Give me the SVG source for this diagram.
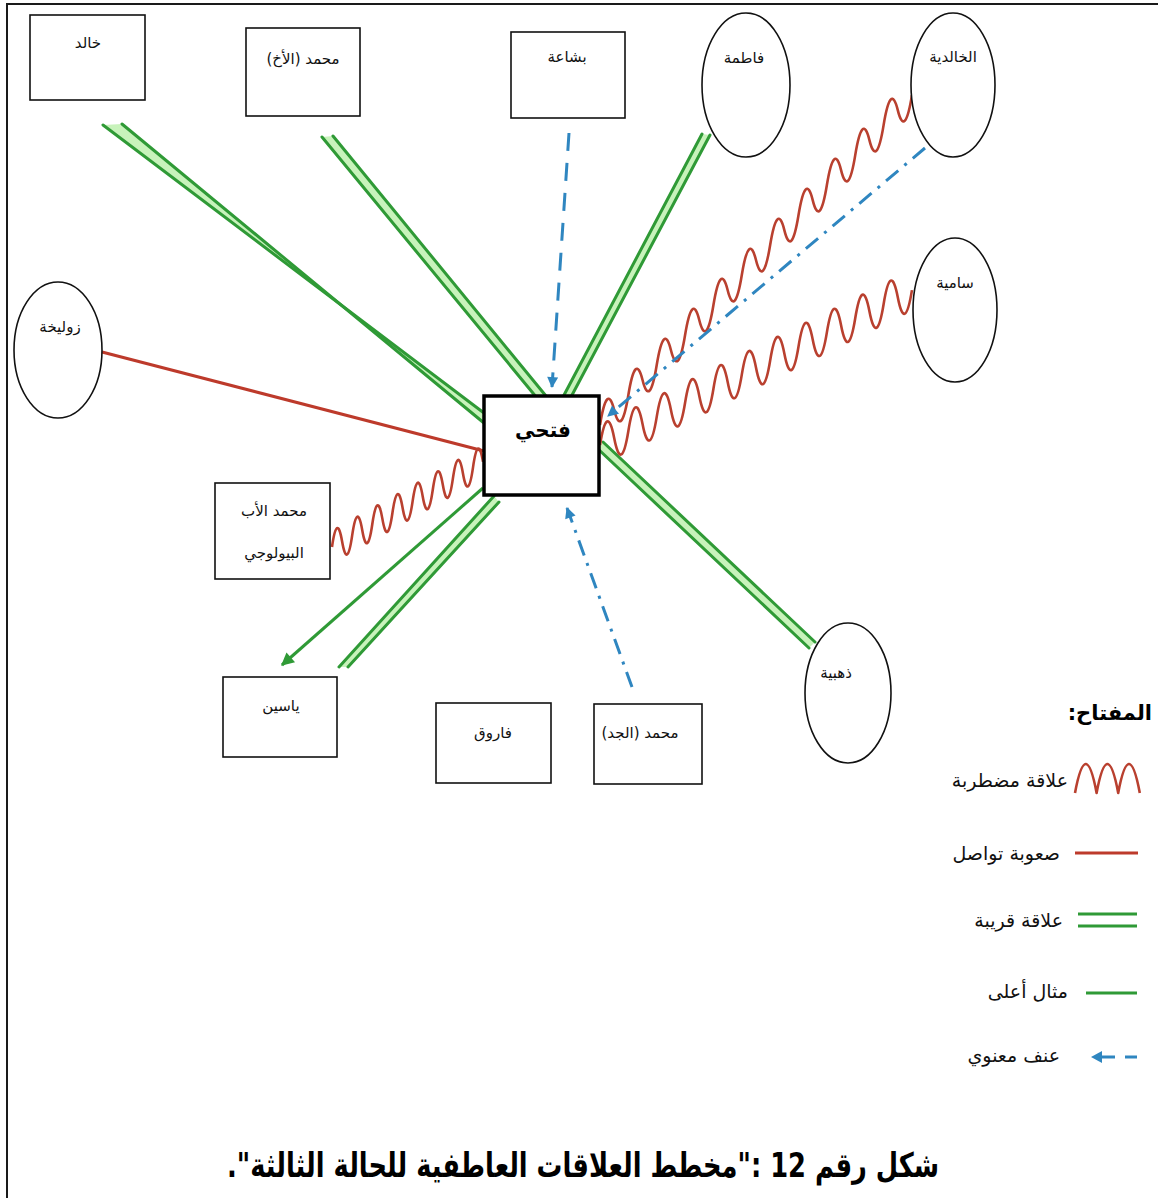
<svg xmlns="http://www.w3.org/2000/svg" width="1158" height="1198" viewBox="0 0 1158 1198">
  <style>
    .frame { stroke: #1a1a1a; stroke-width: 2; fill: none; }
    .box { fill: #fff; stroke: #111; stroke-width: 1.6; }
    .core { fill: #fff; stroke: #000; stroke-width: 3.5; }
    .ell { fill: #fff; stroke: #111; stroke-width: 1.6; }
    .lbl { font-family: "DejaVu Sans", sans-serif; font-size: 15px; fill: #111; direction: rtl; text-anchor: middle; }
    .core-lbl { font-family: "DejaVu Sans", sans-serif; font-size: 20px; font-weight: bold; fill: #000; direction: rtl; text-anchor: middle; }
    .key { font-family: "DejaVu Sans", sans-serif; font-size: 19px; fill: #111; direction: rtl; text-anchor: start; }
    .key-title { font-family: "DejaVu Sans", sans-serif; font-size: 21px; font-weight: bold; fill: #000; direction: rtl; text-anchor: start; }
    .caption { font-family: "DejaVu Sans", sans-serif; font-size: 34px; font-weight: bold; fill: #000; direction: rtl; text-anchor: middle; }
    .g2 { stroke: #2f9a36; stroke-width: 3; stroke-linecap: round; fill: none; }
    .gf { fill: #c8f3bb; }
    .g1 { stroke: #2f9a36; stroke-width: 3; fill: none; }
    .red { stroke: #bd3a2b; stroke-width: 3; fill: none; }
    .wave { stroke: #b9402f; stroke-width: 2.6; fill: none; stroke-linejoin: round; }
    .blue-dash { stroke: #2f86c0; stroke-width: 3; fill: none; stroke-dasharray: 18 12; }
    .blue-dashdot { stroke: #2f86c0; stroke-width: 3; fill: none; stroke-dasharray: 16 8 3 8; }
  </style>
  <defs>
    <marker id="arrow-blue" viewBox="0 0 10 10" refX="9" refY="5" markerWidth="12" markerHeight="11" markerUnits="userSpaceOnUse" orient="auto">
      <path d="M0 0 L10 5 L0 10 Z" fill="#2f86c0"/>
    </marker>
    <marker id="arrow-green" viewBox="0 0 10 10" refX="9" refY="5" markerWidth="15" markerHeight="13" markerUnits="userSpaceOnUse" orient="auto">
      <path d="M0 0 L10 5 L0 10 Z" fill="#2f9a36"/>
    </marker>
  </defs>

  <rect width="1158" height="1198" fill="#fff"/>
  <!-- page frame: top and left rules -->
  <path class="frame" d="M6 4 H1158 M7 4 V1198"/>

  <g id="connectors">
    <!-- close relations (double green) -->
    <g id="link-khaled">
      <polygon class="gf" points="103,125 484,413 484,423 122,124"/>
      <line class="g2" x1="103" y1="125" x2="484" y2="413"/>
      <line class="g2" x1="122" y1="124" x2="484" y2="423"/>
    </g>
    <g id="link-mohamed-brother">
      <polygon class="gf" points="322,137 537,398 546,396 333,136"/>
      <line class="g2" x1="322" y1="137" x2="537" y2="398"/>
      <line class="g2" x1="333" y1="136" x2="546" y2="396"/>
    </g>
    <g id="link-fatima">
      <polygon class="gf" points="702,134 563,397 571,397 710,135"/>
      <line class="g2" x1="702" y1="134" x2="563" y2="397"/>
      <line class="g2" x1="710" y1="135" x2="571" y2="397"/>
    </g>
    <g id="link-dhahabiya">
      <polygon class="gf" points="597,448 809,648 815,642 603,442"/>
      <line class="g2" x1="597" y1="448" x2="809" y2="648"/>
      <line class="g2" x1="603" y1="442" x2="815" y2="642"/>
    </g>
    <g id="link-yassine-close">
      <polygon class="gf" points="494,496 339,667 348,667 499,502"/>
      <line class="g2" x1="494" y1="496" x2="339" y2="667"/>
      <line class="g2" x1="499" y1="502" x2="348" y2="667"/>
    </g>
    <!-- role model (single green arrow) -->
    <line id="link-yassine-model" class="g1" x1="483" y1="488" x2="282" y2="665" marker-end="url(#arrow-green)"/>

    <!-- communication difficulty (straight red) -->
    <line id="link-zulikha" class="red" x1="102" y1="352" x2="484" y2="451"/>

    <!-- troubled relations (red waves, drawn along x then sheared onto the link) -->
    <path id="link-khalidiya-wave" class="wave" vector-effect="non-scaling-stroke"
      transform="translate(600 425) skewY(-46.6)"
      d="M0 0 q7.09 -36 14.18 0 t14.18 0 t14.18 0 t14.18 0 t14.18 0 t14.18 0 t14.18 0 t14.18 0 t14.18 0 t14.18 0 t14.18 0 t14.18 0 t14.18 0 t14.18 0 t14.18 0 t14.18 0 t14.18 0 t14.18 0 t14.18 0 t14.18 0 t14.18 0 t14.18 0"/>
    <path id="link-samia-wave" class="wave" vector-effect="non-scaling-stroke"
      transform="translate(600 445) skewY(-26.4)"
      d="M0 0 q7.09 -40 14.18 0 t14.18 0 t14.18 0 t14.18 0 t14.18 0 t14.18 0 t14.18 0 t14.18 0 t14.18 0 t14.18 0 t14.18 0 t14.18 0 t14.18 0 t14.18 0 t14.18 0 t14.18 0 t14.18 0 t14.18 0 t14.18 0 t14.18 0 t14.18 0 t14.18 0"/>
    <path id="link-father-wave" class="wave" vector-effect="non-scaling-stroke"
      transform="translate(332 547) skewY(-29.4)"
      d="M0 0 q5.03 -32 10.07 0 t10.07 0 t10.07 0 t10.07 0 t10.07 0 t10.07 0 t10.07 0 t10.07 0 t10.07 0 t10.07 0 t10.07 0 t10.07 0 t10.07 0 t10.07 0 t10.07 0"/>

    <!-- emotional abuse (blue, dashed / dash-dot arrows) -->
    <line id="link-bashaa" class="blue-dash" x1="569" y1="133" x2="552" y2="387" marker-end="url(#arrow-blue)"/>
    <line id="link-khalidiya-abuse" class="blue-dashdot" x1="925" y1="148" x2="608" y2="416" marker-end="url(#arrow-blue)"/>
    <line id="link-grandfather" class="blue-dashdot" x1="632" y1="687" x2="567" y2="508" marker-end="url(#arrow-blue)"/>
  </g>

  <!-- people -->
  <g id="node-khaled">
    <rect class="box" x="30" y="15" width="115" height="85"/>
    <text class="lbl" x="88" y="48">خالد</text>
  </g>
  <g id="node-mohamed-brother">
    <rect class="box" x="246" y="28" width="114" height="88"/>
    <text class="lbl" x="303" y="64">محمد (الأخ)</text>
  </g>
  <g id="node-bashaa">
    <rect class="box" x="511" y="32" width="114" height="86"/>
    <text class="lbl" x="567" y="62">بشاعة</text>
  </g>
  <g id="node-fatima">
    <ellipse class="ell" cx="746" cy="85" rx="44" ry="72"/>
    <text class="lbl" x="744" y="63">فاطمة</text>
  </g>
  <g id="node-khalidiya">
    <ellipse class="ell" cx="953" cy="85" rx="42" ry="72"/>
    <text class="lbl" x="953" y="62">الخالدية</text>
  </g>
  <g id="node-samia">
    <ellipse class="ell" cx="955" cy="310" rx="42" ry="72"/>
    <text class="lbl" x="955" y="288">سامية</text>
  </g>
  <g id="node-zulikha">
    <ellipse class="ell" cx="58" cy="350" rx="44" ry="68"/>
    <text class="lbl" x="60" y="332">زوليخة</text>
  </g>
  <g id="node-fathi">
    <rect class="core" x="484" y="396" width="115" height="99"/>
    <text class="core-lbl" x="543" y="437">فتحي</text>
  </g>
  <g id="node-father">
    <rect class="box" x="215" y="483" width="115" height="96"/>
    <text class="lbl" x="274" y="516">محمد الأب</text>
    <text class="lbl" x="274" y="558">البيولوجي</text>
  </g>
  <g id="node-dhahabiya">
    <ellipse class="ell" cx="848" cy="693" rx="43" ry="70"/>
    <text class="lbl" x="836" y="678">ذهبية</text>
  </g>
  <g id="node-yassine">
    <rect class="box" x="223" y="677" width="114" height="80"/>
    <text class="lbl" x="281" y="711">ياسين</text>
  </g>
  <g id="node-farouk">
    <rect class="box" x="436" y="703" width="115" height="80"/>
    <text class="lbl" x="493" y="738">فاروق</text>
  </g>
  <g id="node-grandfather">
    <rect class="box" x="594" y="704" width="108" height="80"/>
    <text class="lbl" x="640" y="738">محمد (الجد)</text>
  </g>

  <!-- key -->
  <g id="legend">
    <text class="key-title" x="1152" y="720">المفتاح:</text>
    <path class="wave" d="M1075 793 q10.8 -58 21.6 0 q10.8 -58 21.6 0 q10.8 -58 21.6 0"/>
    <text class="key" x="1068" y="787">علاقة مضطربة</text>
    <line class="red" x1="1075" y1="853" x2="1138" y2="853"/>
    <text class="key" x="1060" y="860">صعوبة تواصل</text>
    <line class="g1" x1="1078" y1="914" x2="1137" y2="914"/>
    <line class="g1" x1="1078" y1="926" x2="1137" y2="926"/>
    <text class="key" x="1063" y="927">علاقة قريبة</text>
    <line class="g1" x1="1086" y1="993" x2="1137" y2="993"/>
    <text class="key" x="1068" y="998">مثال أعلى</text>
    <line class="blue-dash" x1="1125" y1="1057" x2="1137" y2="1057" style="stroke-dasharray:none"/>
    <line class="blue-dash" x1="1100" y1="1057" x2="1115" y2="1057" style="stroke-dasharray:none"/>
    <path d="M1091 1057 L1102 1051 L1102 1063 Z" fill="#2f86c0"/>
    <text class="key" x="1060" y="1062">عنف معنوي</text>
  </g>

  <text id="caption" class="caption" x="583" y="1177" textLength="712" lengthAdjust="spacingAndGlyphs">شكل رقم 12 :"مخطط العلاقات العاطفية للحالة الثالثة".</text>
</svg>
